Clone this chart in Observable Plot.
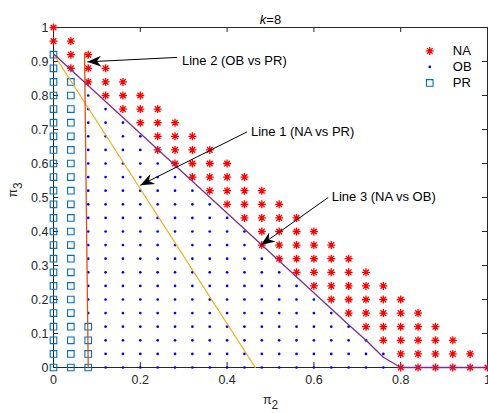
<!DOCTYPE html>
<html><head><meta charset="utf-8">
<script src="https://cdn.jsdelivr.net/npm/d3@7"></script>
<script src="https://cdn.jsdelivr.net/npm/@observablehq/plot@0.6"></script>
<style>html,body{margin:0;padding:0;background:#fff} svg{display:block}</style>
</head><body><div id="chart"></div>
<script>
// ---- data ----
const title = "k=8";
const xLabel = "π2";
const yLabel = "π3";
const xTicks = [0, 0.2, 0.4, 0.6, 0.8, 1];
const yTicks = [0, 0.1, 0.2, 0.3, 0.4, 0.5, 0.6, 0.7, 0.8, 0.9, 1];
const gridX = [0,0.04,0.08,0.12,0.16,0.2,0.24,0.28,0.32,0.36,0.4,0.44,0.48,0.52,0.56,0.6,0.64,0.68,0.72,0.76,0.8,0.84,0.88,0.92,0.96,1];
const gridY = [0,0.04,0.08,0.12,0.16,0.2,0.24,0.28,0.32,0.36,0.4,0.44,0.48,0.52,0.56,0.6,0.64,0.68,0.72,0.76,0.8,0.84,0.88,0.92,0.96,1];
// per column of gridX: highest point, highest PR point, lowest NA point
const colTop   = [1,0.96,0.92,0.88,0.84,0.8,0.76,0.72,0.68,0.64,0.6,0.56,0.52,0.48,0.44,0.4,0.36,0.32,0.28,0.24,0.2,0.16,0.12,0.08,0.04,0];
const prTop    = [0.92,0.84,0.12,null,null,null,null,null,null,null,null,null,null,null,null,null,null,null,null,null,null,null,null,null,null,null];
const naBottom = [0.96,0.88,0.84,0.8,0.76,0.72,0.64,0.6,0.56,0.52,0.48,0.44,0.36,0.32,0.28,0.24,0.2,0.16,0.12,0.08,0,0,0,0,0,0];
const seriesNames = ["NA", "OB", "PR"];

const line1X = [0, 0.465];
const line1Y = [0.922, 0];
const line2X = [0.0785, 0.0715, 0.08];
const line2Y = [0.9235, 0.9235, 0];
const line3X = [0, 0.64, 0.68, 0.72, 0.76, 0.8, 1];
const line3Y = [0.923, 0.173, 0.126, 0.08, 0.03, 0, 0];

const annLabels = ["Line 2 (OB vs PR)", "Line 1 (NA vs PR)", "Line 3 (NA vs OB)"];
const annTextX  = [0.296, 0.455, 0.641];
const annTextY  = [0.902, 0.692, 0.502];
const arrowFromX = [0.285, 0.446, 0.633];
const arrowFromY = [0.912, 0.693, 0.500];
const arrowToX   = [0.078, 0.200, 0.478];
const arrowToY   = [0.899, 0.536, 0.360];

// ---- build tables ----
const eps = 1e-9;
const points = [];
gridX.forEach((x, i) => gridY.forEach(y => {
  if (y > colTop[i] + eps) return;
  let s;
  if (y >= naBottom[i] - eps) s = "NA";
  else if (prTop[i] != null && y <= prTop[i] + eps) s = "PR";
  else s = "OB";
  points.push({x, y, s});
}));
const mkLine = (xs, ys) => xs.map((x, i) => ({x, y: ys[i]}));
const anns = annLabels.map((t, i) => ({t, tx: annTextX[i], ty: annTextY[i], x1: arrowFromX[i], y1: arrowFromY[i], x2: arrowToX[i], y2: arrowToY[i]}));

// ---- layout ----
const W = 488, H = 413, mL = 53, mR = 1, mT = 27, mB = 46;
const pw = W - mL - mR, ph = H - mT - mB;
const ink = "#262626";
const colNA = "#ff0000", colOB = "#0000ff", colPR = "#0072BD";

const starSymbol = {draw(ctx, size) {
  const r = Math.sqrt(size / Math.PI), d = r * Math.SQRT1_2;
  ctx.moveTo(-r, 0); ctx.lineTo(r, 0);
  ctx.moveTo(0, -r); ctx.lineTo(0, r);
  ctx.moveTo(-d, -d); ctx.lineTo(d, d);
  ctx.moveTo(-d, d); ctx.lineTo(d, -d);
}};
const headSymbol = {draw(ctx) {
  ctx.moveTo(0, 0); ctx.lineTo(5.5, 14); ctx.lineTo(0, 9.5); ctx.lineTo(-5.5, 14); ctx.closePath();
}};
const angle = d => Math.atan2((d.x2 - d.x1) * pw, (d.y2 - d.y1) * ph) * 180 / Math.PI;

const legendX = 0.867, legendTextX = 0.92, legendY0 = 0.931, legendStep = 0.047;
const legend = seriesNames.map((s, i) => ({s, y: legendY0 - i * legendStep}));

const fmt = d => String(d);

const chart = Plot.plot({
  width: W, height: H,
  marginLeft: mL, marginRight: mR, marginTop: mT, marginBottom: mB,
  style: {fontFamily: "'Liberation Sans', Arial, sans-serif", fontSize: "12px", color: ink, background: "white", overflow: "visible"},
  x: {domain: [0, 1], label: null},
  y: {domain: [0, 1], label: null},
  marks: [
    Plot.frame({stroke: ink, strokeWidth: 1}),
    Plot.axisX({ticks: xTicks, tickSize: 0, tickPadding: 8, tickFormat: fmt, label: null, fill: ink, fontSize: 12.5}),
    Plot.axisY({ticks: yTicks, tickSize: 0, tickPadding: 5, tickFormat: fmt, label: null, fill: ink, fontSize: 12.5}),
    Plot.tickX(xTicks, {x: d => d, insetTop: ph - 5, stroke: ink}),
    Plot.tickX(xTicks, {x: d => d, insetBottom: ph - 5, stroke: ink}),
    Plot.tickY(yTicks, {y: d => d, insetRight: pw - 5, stroke: ink}),
    Plot.tickY(yTicks, {y: d => d, insetLeft: pw - 5, stroke: ink}),
    // markers
    Plot.dot(points.filter(d => d.s === "NA"), {x: "x", y: "y", symbol: starSymbol, r: 4, fill: "none", stroke: colNA, strokeWidth: 1.3}),
    Plot.dot(points.filter(d => d.s === "OB"), {x: "x", y: "y", r: 1.35, fill: colOB, stroke: "none"}),
    Plot.dot(points.filter(d => d.s === "PR"), {x: "x", y: "y", symbol: "square", r: 3.7, fill: "none", stroke: colPR, strokeWidth: 1.1}),
    // boundary lines
    Plot.line(mkLine(line1X, line1Y), {x: "x", y: "y", stroke: "#EDB120", strokeWidth: 1.3}),
    Plot.line(mkLine(line2X, line2Y), {x: "x", y: "y", stroke: "#D95319", strokeWidth: 1.3}),
    Plot.line(mkLine(line3X, line3Y), {x: "x", y: "y", stroke: "#7E2F8E", strokeWidth: 1.3}),
    // annotations
    Plot.link(anns, {x1: "x1", y1: "y1", x2: "x2", y2: "y2", stroke: "#000", strokeWidth: 1}),
    Plot.dot(anns, {x: "x2", y: "y2", symbol: headSymbol, rotate: angle, fill: "#000", stroke: "none", r: 5}),
    Plot.text(anns, {x: "tx", y: "ty", text: "t", textAnchor: "start", fill: "#000", fontSize: 13}),
    // legend
    Plot.dot(legend.filter(d => d.s === "NA"), {x: () => legendX, y: "y", symbol: starSymbol, r: 4, fill: "none", stroke: colNA, strokeWidth: 1.3}),
    Plot.dot(legend.filter(d => d.s === "OB"), {x: () => legendX, y: "y", r: 1.35, fill: colOB, stroke: "none"}),
    Plot.dot(legend.filter(d => d.s === "PR"), {x: () => legendX, y: "y", symbol: "square", r: 3.7, fill: "none", stroke: colPR, strokeWidth: 1.1}),
    Plot.text(legend, {x: () => legendTextX, y: "y", text: "s", textAnchor: "start", fill: "#000", fontSize: 13}),
    // title and axis labels
    Plot.text([title], {frameAnchor: "top", dy: -13, text: d => d, fill: "#000", fontSize: 13}),
    Plot.text([xLabel], {frameAnchor: "bottom", dy: 36, text: d => d, fill: ink, fontSize: 12.5}),
    Plot.text([yLabel], {frameAnchor: "left", dx: -41, rotate: -90, text: d => d, fill: ink, fontSize: 12.5})
  ]
});
document.getElementById("chart").appendChild(chart);

// rich text: italic k in title, subscripts in axis labels
const NS = "http://www.w3.org/2000/svg";
chart.querySelectorAll("text").forEach(t => {
  const s = t.textContent;
  if (s === title) {
    t.textContent = "";
    const a = document.createElementNS(NS, "tspan"); a.setAttribute("font-style", "italic"); a.textContent = "k";
    const b = document.createElementNS(NS, "tspan"); b.textContent = "=8";
    t.append(a, b);
  } else if (s === xLabel || s === yLabel) {
    t.textContent = "";
    const a = document.createElementNS(NS, "tspan"); a.textContent = "π";
    const b = document.createElementNS(NS, "tspan"); b.setAttribute("dy", "0.45em"); b.setAttribute("font-size", "0.95em"); b.textContent = s.slice(1);
    t.append(a, b);
  }
});
</script>
</body></html>
